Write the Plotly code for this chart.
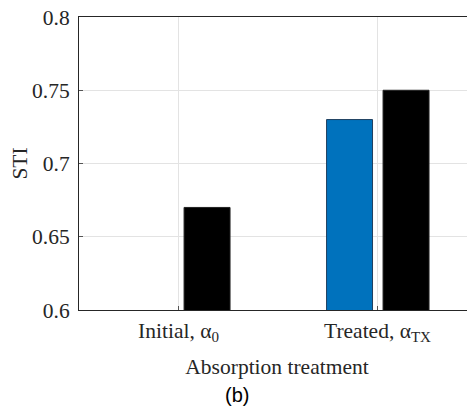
import plotly.graph_objects as go

categories = ["Initial, α<sub>0</sub>", "Treated, α<sub>TX</sub>"]
blue_vals = [None, 0.73]
black_vals = [0.67, 0.75]
y_ticks = [0.6, 0.65, 0.7, 0.75, 0.8]
y_ticklabels = ["0.6", "0.65", "0.7", "0.75", "0.8"]

xpos = [0, 1]
fig = go.Figure()
fig.add_trace(go.Bar(x=xpos, y=blue_vals, width=0.231, offset=-0.256,
                     marker=dict(color="#0072BD", line=dict(color="#1f3f5f", width=1)),
                     showlegend=False))
fig.add_trace(go.Bar(x=xpos, y=black_vals, width=0.231, offset=0.028,
                     marker=dict(color="#000000", line=dict(color="#222222", width=1)),
                     showlegend=False))

serif = "Liberation Serif, Times New Roman, serif"
fs = 21.5
fig.update_layout(
    width=467, height=404,
    margin=dict(l=71, r=0, t=9, b=102),
    plot_bgcolor="white", paper_bgcolor="white",
    barmode="overlay",
    font=dict(family=serif, size=fs, color="#262626"),
    xaxis=dict(range=[-0.5, 1.49], tickmode="array", tickvals=xpos, ticktext=categories,
               showgrid=True, gridcolor="#e3e3e3", gridwidth=1,
               showline=True, linecolor="#262626", linewidth=1, mirror=True,
               ticks="inside", ticklen=4, tickcolor="#555", ticklabelstandoff=1,
               title=dict(text="Absorption treatment", standoff=14, font=dict(size=fs)),
               tickfont=dict(size=fs), zeroline=False, automargin=False),
    yaxis=dict(range=[0.6, 0.8], tickmode="array", tickvals=y_ticks, ticktext=y_ticklabels,
               showgrid=True, gridcolor="#e3e3e3", gridwidth=1,
               showline=True, linecolor="#262626", linewidth=1, mirror=True,
               ticks="inside", ticklen=4, tickcolor="#555", ticklabelstandoff=4,
               ticklabeloverflow="allow",
               title=dict(text="STI", standoff=10, font=dict(size=fs)),
               tickfont=dict(size=fs), zeroline=False, automargin=False),
)
fig.add_annotation(text="(b)", xref="paper", yref="paper", x=0.399, y=-0.29,
                   showarrow=False, yanchor="middle", xanchor="center",
                   font=dict(family="Liberation Sans, Arial, sans-serif", size=20, color="#000"))
fig.write_html("out.html")
